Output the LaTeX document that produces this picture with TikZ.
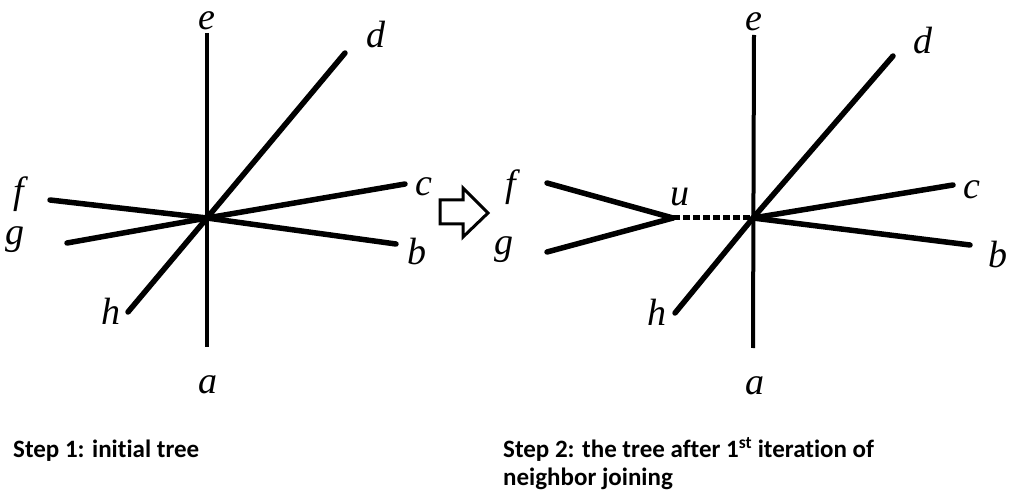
\documentclass[tikz,border=0pt]{standalone}
\usepackage{fontspec}
\setmainfont{Liberation Serif}
\newfontfamily\leaffont{Liberation Serif}
\newfontfamily\capfont[Ligatures=NoCommon]{Carlito}
\begin{document}
\begin{tikzpicture}[x=1pt,y=-1pt,
  branch/.style={line width=5.5pt,line cap=round},
  vbranch/.style={line width=4pt},
  newbranch/.style={line width=5pt,dash pattern=on 7pt off 3pt},
  leaf/.style={inner sep=0pt,font=\leaffont\fontsize{38}{44}\selectfont\itshape},
  caption/.style={inner sep=0pt,font=\capfont\fontsize{25}{28}\selectfont\bfseries,align=left},
  stepsign/.style={line width=3pt,line join=miter,fill=white}]
\useasboundingbox (0,0) rectangle (1013,492);
% ---------- Step 1 ----------
\coordinate (c1) at (207,218);
\coordinate (e1) at (207,33);
\coordinate (a1) at (207,347);
\coordinate (d1) at (345,53);
\coordinate (cc1) at (405,184);
\coordinate (b1) at (396,244);
\coordinate (h1) at (128,312);
\coordinate (f1) at (50,200);
\coordinate (g1) at (67,243);
\draw[vbranch] (e1) -- (a1);
\draw[branch] (c1) -- (d1);
\draw[branch] (c1) -- (h1);
\draw[branch] (c1) -- (cc1);
\draw[branch] (c1) -- (b1);
\draw[branch] (c1) -- (f1);
\draw[branch] (c1) -- (g1);
\node[leaf] (le1) at (207,21) {e};
\node[leaf] (ld1) at (376,35) {d};
\node[leaf] (lc1) at (424,187) {c};
\node[leaf] (lb1) at (417,252) {b};
\node[leaf] (la1) at (208,385) {a};
\node[leaf] (lh1) at (111,311) {h};
\node[leaf] (lf1) at (19,194) {f};
\node[leaf] (lg1) at (15,240) {g};
% ---------- arrow ----------
\draw[stepsign] (440,200) -- (463,200) -- (463,188) -- (488,213) -- (463,237) -- (463,224) -- (440,224) -- cycle;
% ---------- Step 2 ----------
\coordinate (c2) at (753,218);
\coordinate (u2) at (673,218);
\coordinate (e2) at (754,35);
\coordinate (a2) at (753,348);
\coordinate (d2) at (893,56);
\coordinate (cc2) at (953,185);
\coordinate (b2) at (970,245);
\coordinate (h2) at (675,313);
\coordinate (f2) at (547,183);
\coordinate (g2) at (547,252);
\draw[vbranch] (e2) -- (a2);
\draw[branch] (c2) -- (d2);
\draw[branch] (c2) -- (h2);
\draw[branch] (c2) -- (cc2);
\draw[branch] (c2) -- (b2);
\draw[newbranch] (u2) -- (c2);
\draw[branch] (u2) -- (f2);
\draw[branch] (u2) -- (g2);
\node[leaf] (le2) at (754,22) {e};
\node[leaf] (ld2) at (923,41) {d};
\node[leaf] (lc2) at (972,190) {c};
\node[leaf] (lb2) at (998,255) {b};
\node[leaf] (la2) at (755,386) {a};
\node[leaf] (lh2) at (657,312) {h};
\node[leaf] (lf2) at (511,187) {f};
\node[leaf] (lg2) at (504,250) {g};
\node[leaf] (lu2) at (680,197) {u};
% ---------- captions ----------
\node[caption,anchor=base west] (cap1) at (13,457) {Step 1: initial tree};
\node[caption,anchor=north west] (cap2) at (503,437) {Step 2: the tree after 1\textsuperscript{st} iteration of\\neighbor joining};
\end{tikzpicture}
\end{document}
